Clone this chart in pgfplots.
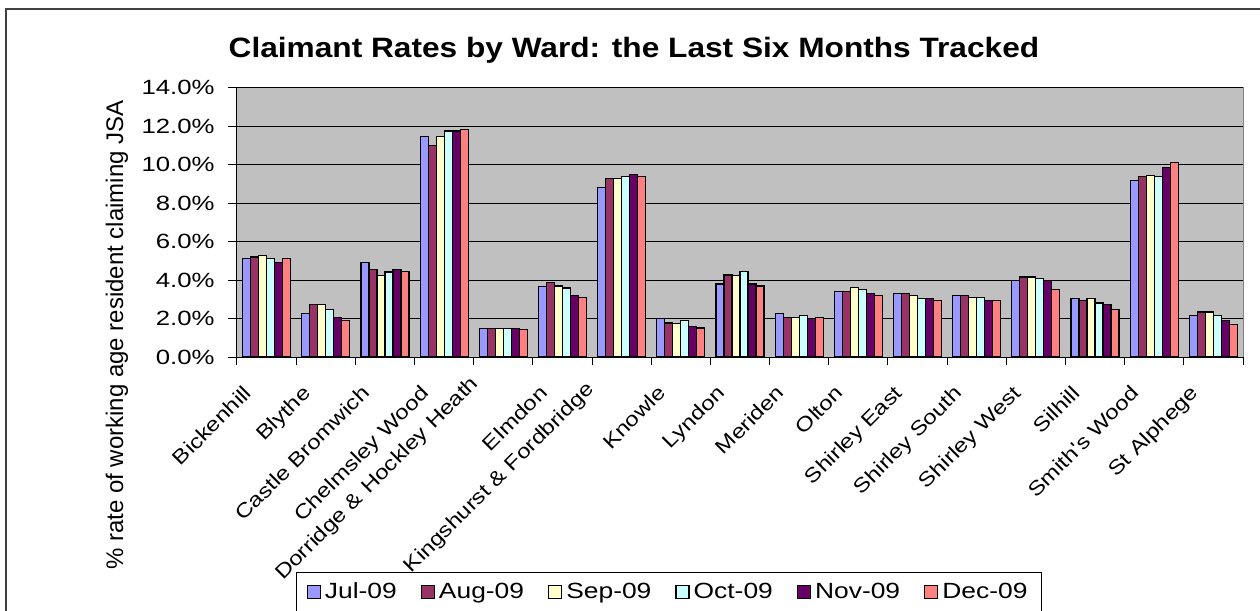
\documentclass[border=0pt]{standalone}
\usepackage{fontspec}
\setmainfont{Liberation Sans}
\newfontfamily\tickfont[FakeStretch=1.25]{Liberation Sans}
\newfontfamily\catfont[FakeStretch=1.2]{Liberation Sans}
\newfontfamily\legfont[FakeStretch=1.2]{Liberation Sans}
\newfontfamily\titfont[FakeStretch=1.13]{Liberation Sans}
\usepackage{pgfplots}
\usepackage{pgfplotstable}
\pgfplotsset{compat=1.18}
\definecolor{cjul}{HTML}{9999FF}
\definecolor{caug}{HTML}{993366}
\definecolor{csep}{HTML}{FFFFCC}
\definecolor{coct}{HTML}{CCFFFF}
\definecolor{cnov}{HTML}{660066}
\definecolor{cdec}{HTML}{FF8080}
\definecolor{cbg}{HTML}{C0C0C0}
\definecolor{cframe}{HTML}{808080}
\pgfplotstableread{
x jul aug sep oct nov dec
0 5.11 5.20 5.29 5.10 4.92 5.10
1 2.26 2.71 2.71 2.45 2.07 1.88
2 4.92 4.54 4.24 4.42 4.54 4.43
3 11.46 10.97 11.46 11.74 11.74 11.83
4 1.50 1.50 1.50 1.50 1.50 1.43
5 3.68 3.88 3.69 3.58 3.20 3.11
6 8.82 9.29 9.29 9.37 9.46 9.37
7 1.98 1.77 1.76 1.90 1.60 1.51
8 3.79 4.26 4.24 4.43 3.79 3.69
9 2.26 2.07 2.07 2.17 1.98 2.07
10 3.41 3.41 3.60 3.50 3.30 3.20
11 3.30 3.30 3.20 3.03 3.03 2.94
12 3.20 3.20 3.11 3.11 2.94 2.94
13 3.97 4.16 4.16 4.07 3.97 3.50
14 3.02 2.94 3.02 2.81 2.73 2.45
15 9.17 9.36 9.44 9.36 9.84 10.10
16 2.15 2.34 2.34 2.15 1.88 1.68
}\data
\begin{document}
\begin{tikzpicture}
\path[use as bounding box] (-118.5pt,-127pt) rectangle (511.5pt,178.5pt);
\begin{axis}[
  at={(0pt,0pt)}, anchor=south west,
  scale only axis, width=503pt, height=134.75pt,
  ybar=0pt, bar width=4pt,
  xmin=-0.5, xmax=16.5, ymin=0, ymax=14,
  axis background/.style={fill=cbg, draw=cframe, line width=0.5pt},
  axis x line*=bottom, axis y line*=left,
  axis line style={black, line width=0.5pt},
  tick align=outside,
  major tick length=4.5pt, minor tick length=4pt,
  xtick={0,...,16},
  minor xtick={-0.5,0.5,...,16.5},
  major x tick style={draw=none},
  xticklabels={Bickenhill,Blythe,Castle Bromwich,Chelmsley Wood,{\raisebox{7pt}{Dorridge \& Hockley Heath}},Elmdon,{\raisebox{6pt}{Kingshurst \& Fordbridge\hspace{3pt}}},Knowle,Lyndon,Meriden,Olton,Shirley East,Shirley South,Shirley West,Silhill,Smith's Wood,St Alphege},
  xticklabel style={xshift=-6.85pt, yshift=-14.1pt, rotate=45, anchor=base east, inner sep=0pt, font=\fontsize{10}{12}\catfont},
  ytick={0,2,...,14},
  ymajorgrids,
  grid style={black, line width=0.45pt},
  /pgf/number format/assume math mode=true,
  yticklabel={\pgfmathprintnumber[fixed,fixed zerofill,precision=1]{\tick}\%},
  yticklabel style={anchor=east, inner sep=0pt, xshift=-6.5pt, font=\fontsize{10.3}{12}\tickfont},
  tick style={black, line width=0.5pt},
  title={Claimant Rates by Ward: the Last Six Months Tracked},
  title style={at={(axis description cs:0.3946,1.112)}, anchor=base, yshift=-6pt, inner sep=0pt, font=\fontsize{14}{16}\titfont\bfseries},
  ylabel={\% rate of working age resident claiming JSA},
  ylabel style={at={(axis description cs:-0.1193,0.0816)}, anchor=center, inner sep=0pt, font=\fontsize{12}{14}\selectfont},
  legend columns=6,
  legend style={at={(axis description cs:0.4295,-0.798)}, anchor=north, draw=black, line width=0.5pt,
    font=\fontsize{11}{13}\legfont, inner xsep=5pt, inner ysep=3pt,
    /tikz/every even column/.append style={column sep=10pt}},
  legend image code/.code={\draw[#1, draw=black, line width=0.6pt] (0pt,-3.25pt) rectangle (6.5pt,3.25pt);},
  every axis plot/.append style={draw=black, line width=0.6pt},
]
\addplot[fill=cjul] table[x=x,y=jul] {\data};
\addplot[fill=caug] table[x=x,y=aug] {\data};
\addplot[fill=csep] table[x=x,y=sep] {\data};
\addplot[fill=coct] table[x=x,y=oct] {\data};
\addplot[fill=cnov] table[x=x,y=nov] {\data};
\addplot[fill=cdec] table[x=x,y=dec] {\data};
\legend{Jul-09,Aug-09,Sep-09,Oct-09,Nov-09,Dec-09}
\end{axis}
\draw[black!75, line width=0.6pt] (-115.5pt,-140pt) -- (-115.5pt,174pt) -- (520pt,174pt);
\end{tikzpicture}
\end{document}
